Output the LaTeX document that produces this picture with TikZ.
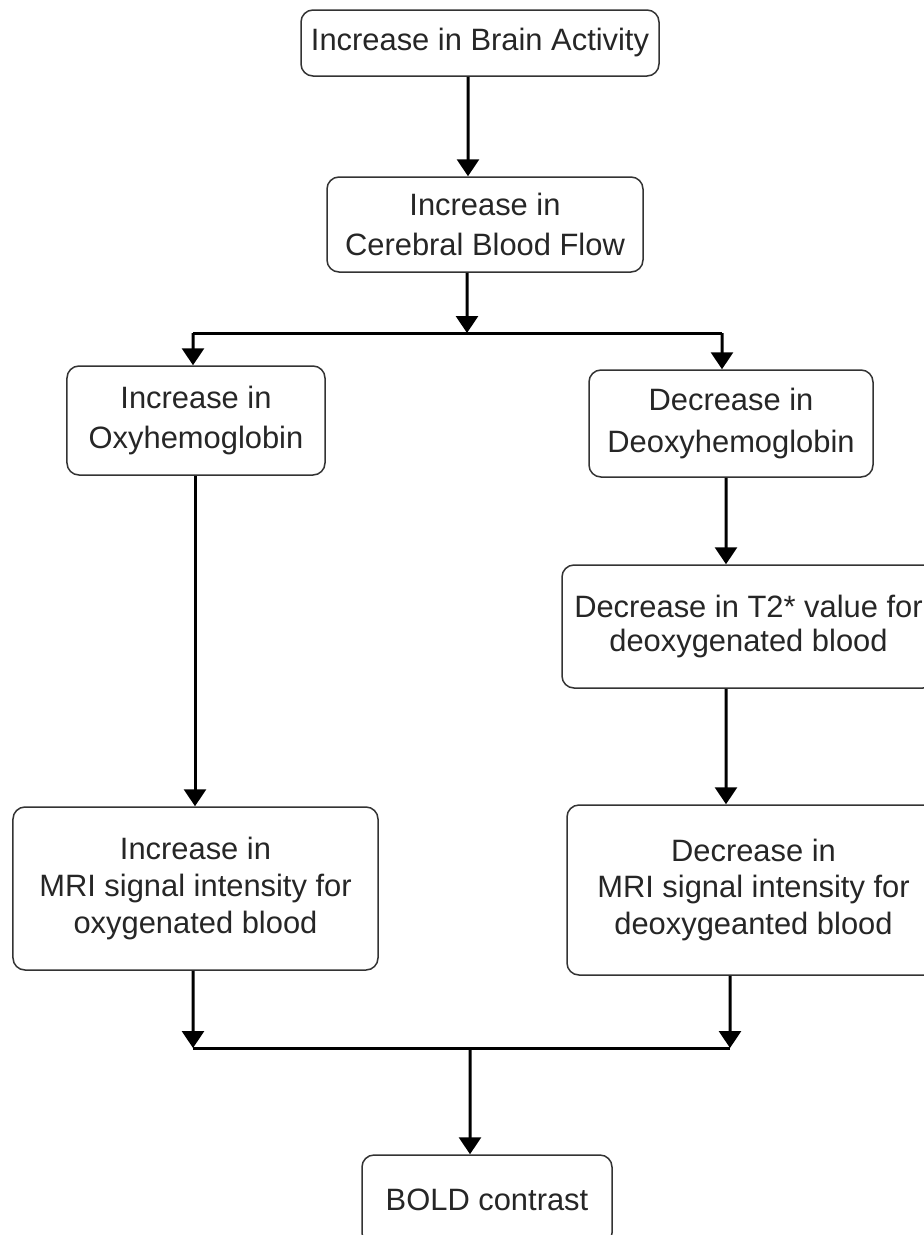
\documentclass[tikz,border=0pt]{standalone}
\usepackage{fontspec}
\setmainfont{Liberation Sans}
\usetikzlibrary{arrows.meta}
\begin{document}
\begin{tikzpicture}[x=1bp,y=-1bp,
  box/.style={draw=black!80, line width=1.5bp, rounded corners=12bp, inner sep=0pt,
    align=center, text=black!85, font=\fontsize{31}{37}\selectfont},
  arr/.style={line width=3bp, -{Triangle[width=22bp,length=17bp]}},
  ln/.style={line width=3bp}]
\useasboundingbox (0,0) rectangle (924,1235);
\clip (0,0) rectangle (924,1235);
\fill[white] (0,0) rectangle (924,1235);
% boxes
\node[box, minimum width=358bp, minimum height=66bp] (b1) at (480,43) {Increase in Brain Activity};
\node[box, minimum width=316bp, minimum height=95bp, font=\fontsize{31}{40}\selectfont] (b2) at (485,224.5) {Increase in\\Cerebral Blood Flow};
\node[box, minimum width=258bp, minimum height=109bp, font=\fontsize{31}{40}\selectfont] (b3) at (196,420.5) {Increase in\\Oxyhemoglobin};
\node[box, minimum width=284bp, minimum height=107bp, font=\fontsize{31}{42}\selectfont] (b4) at (731,423.5) {Decrease in\\Deoxyhemoglobin};
\node[box, minimum width=373bp, minimum height=123bp, font=\fontsize{31}{34}\selectfont] (b6) at (748.5,626.5) {Decrease in T2* value for\\deoxygenated blood};
\node[box, minimum width=365bp, minimum height=163bp] (b5) at (195.5,888.5) {Increase in\\MRI signal intensity for\\oxygenated blood};
\node[box, minimum width=373bp, minimum height=170bp] (b7) at (753.5,890) {Decrease in\\MRI signal intensity for\\deoxygeanted blood};
\node[box, minimum width=250bp, minimum height=90bp] (b8) at (487,1200) {BOLD contrast};
% junctions
\coordinate (jm) at (467,333);
\coordinate (jl) at (193,333);
\coordinate (jr) at (722,333);
\coordinate (kl) at (193,1048);
\coordinate (kr) at (730,1048);
\coordinate (km) at (470,1048);
% connectors
\draw[arr] ([xshift=-12bp]b1.south) -- ([xshift=-17bp]b2.north);
\draw[arr] ([xshift=-18bp]b2.south) -- (jm);
\draw[ln] (jl) -- (jr);
\draw[arr] (jl) -- ([xshift=-3bp]b3.north);
\draw[arr] (jr) -- ([xshift=-9bp]b4.north);
\draw[arr] ([xshift=-1bp]b3.south) -- ([xshift=-0.5bp]b5.north);
\draw[arr] ([xshift=-5bp]b4.south) -- ([xshift=-22.5bp]b6.north);
\draw[arr] ([xshift=-22.5bp]b6.south) -- ([xshift=-27.5bp]b7.north);
\draw[arr] ([xshift=-2.5bp]b5.south) -- (kl);
\draw[arr] ([xshift=-23.5bp]b7.south) -- (kr);
\draw[ln] (kl) -- (kr);
\draw[arr] (km) -- ([xshift=-17bp]b8.north);
\end{tikzpicture}
\end{document}
